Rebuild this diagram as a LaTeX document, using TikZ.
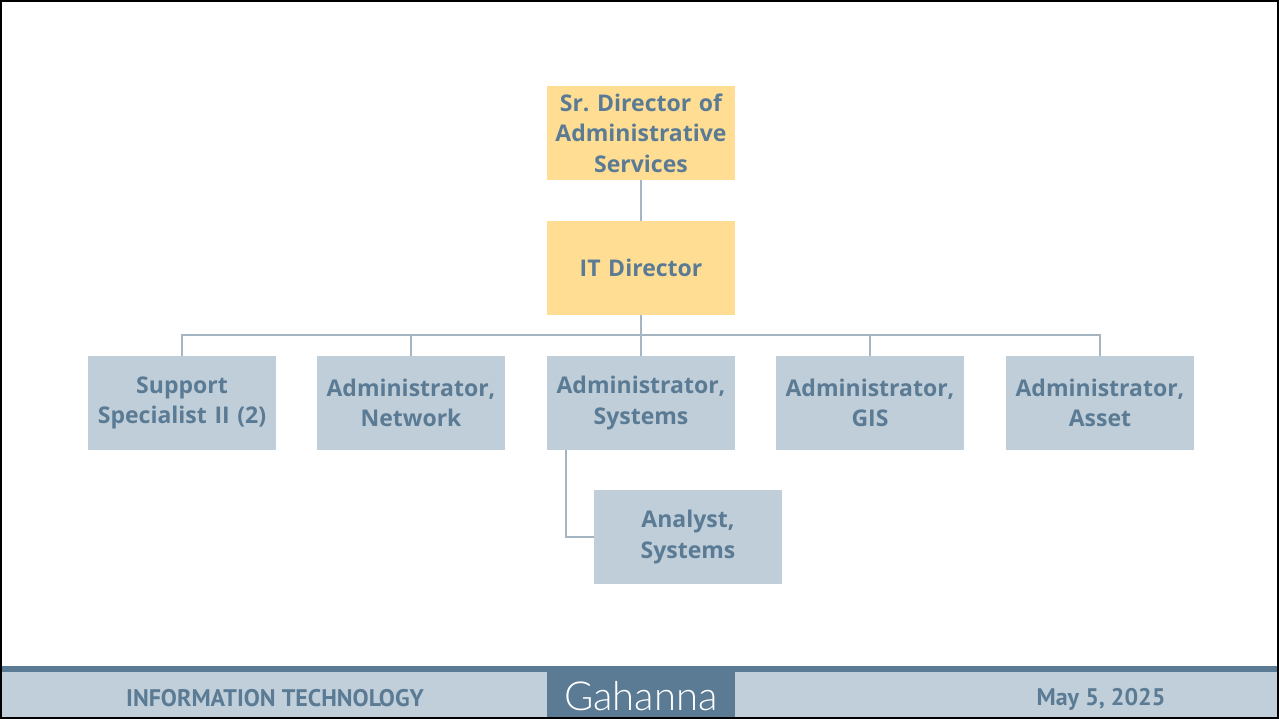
\documentclass[tikz,border=0pt]{standalone}
\usepackage{fontspec}
\setmainfont{Open Sans}
\newfontfamily\footfont{PT Sans}
\newfontfamily\thinfont{Lato}[UprightFont=* Light]
\usepackage{xcolor}
\usetikzlibrary{positioning}
\definecolor{headfill}{HTML}{FFDE94}
\definecolor{staffill}{HTML}{BFCED9}
\definecolor{inktext}{HTML}{5B7B95}
\definecolor{linkline}{HTML}{A6B5C2}
\definecolor{bandlight}{HTML}{C0CFDA}

\begin{document}
\begin{tikzpicture}[x=1pt, y=-1pt,
    n/.style={rectangle, fill=#1, minimum width=188pt, minimum height=94pt, text width=188pt, align=center,
        text=inktext, font=\fontsize{23}{30.5}\selectfont\bfseries, inner sep=0pt},
    foot/.style={text=inktext, font=\footfont\fontsize{24}{26}\selectfont\bfseries},
    link/.style={draw=linkline, line width=1.2pt}]
            \useasboundingbox (0, 0) rectangle (1279, 719);

            % footer band
            \fill[bandlight] (2, 672) rectangle (1277, 717);
            \fill[inktext] (2, 666) rectangle (1277, 672);
            \fill[inktext] (547, 672) rectangle (735, 717);
            \node[foot] (dept) at (275, 698) {INFORMATION TECHNOLOGY};
            \node[text=white, font=\thinfont\fontsize{40}{44}\selectfont] (city) at (641, 696) {Gahanna};
            \node[foot] (date) at (1101, 699) {May 5, 2025};

            % boxes
            \node[n={headfill}] (sr) at (641, 133) {Sr.\ Director of\\Administrative\\Services};
            \node[n={headfill}] (it) at (641, 268) {IT Director};
            \node[n={staffill}] (sup) at (182, 403) {Support\\Specialist II (2)};
            \node[n={staffill}] (net) at (411, 403) {Administrator,\\Network};
            \node[n={staffill}] (sys) at (641, 403) {Administrator,\\Systems};
            \node[n={staffill}] (gis) at (870, 403) {Administrator,\\GIS};
            \node[n={staffill}] (ast) at (1100, 403) {Administrator,\\Asset};
            \node[n={staffill}] (ana) at (688, 537) {Analyst,\\Systems};

            \coordinate (hub) at (641, 335);
            \draw[link] (sr) -- (it);
            \draw[link] (it) -- (hub);
            \draw[link] (hub) -| (sup);
            \draw[link] (hub) -| (net);
            \draw[link] (hub) -- (sys);
            \draw[link] (hub) -| (gis);
            \draw[link] (hub) -| (ast);
            \draw[link] ([xshift=-75pt]sys.south) |- (ana);

            % frame
            \draw[line width=2pt] (1, 1) rectangle (1278, 718);
        \end{tikzpicture}
\end{document}
